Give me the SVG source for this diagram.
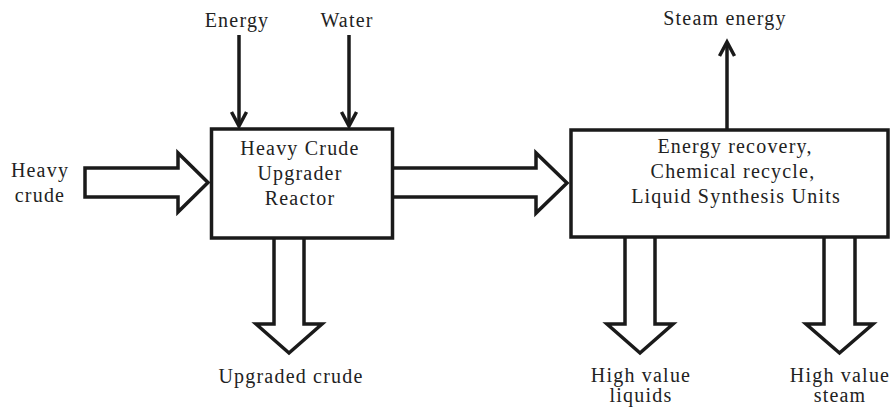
<svg xmlns="http://www.w3.org/2000/svg" width="893" height="408" viewBox="0 0 893 408">
  <style>
    .box { fill: #ffffff; stroke: #1a1a1a; stroke-width: 3.5; }
    .line { fill: none; stroke: #1a1a1a; stroke-width: 3.5; }
    .block { fill: #ffffff; stroke: #1a1a1a; stroke-width: 3.5; stroke-linejoin: miter; stroke-miterlimit: 10; }
    .lbl { font-family: "Liberation Serif", "Times New Roman", serif; font-size: 20px; letter-spacing: 1.2px; fill: #222222; text-anchor: middle; }
  </style>
  <defs>
    <marker id="chev" markerUnits="userSpaceOnUse" viewBox="-18 -10 22 20" markerWidth="22" markerHeight="20" refX="0" refY="0" orient="auto">
      <path d="M-14,-7.5 L0,0 L-14,7.5" fill="none" stroke="#1a1a1a" stroke-width="3.5" stroke-linejoin="miter"/>
    </marker>
  </defs>
  <rect width="893" height="408" fill="#ffffff"/>

  <g id="connectors">
    <line class="line" x1="239" y1="35" x2="239" y2="126" marker-end="url(#chev)"/>
    <line class="line" x1="349" y1="35" x2="349" y2="126" marker-end="url(#chev)"/>
    <line class="line" x1="727" y1="130" x2="727" y2="42" marker-end="url(#chev)"/>
    <path class="block" d="M85,168 L178,168 L178,153 L208,182.5 L178,212 L178,197 L85,197 Z"/>
    <path class="block" d="M393,168 L536,168 L536,153 L567,183 L536,213 L536,197 L393,197"/>
    <path class="block" d="M274,238 L274,324 L256,324 L289,353 L322,324 L304,324 L304,238"/>
    <path class="block" d="M625,237 L625,324 L607,324 L640,353 L673,324 L655,324 L655,237"/>
    <path class="block" d="M824,237 L824,324 L806,324 L839.5,353 L873,324 L855,324 L855,237"/>
  </g>

  <g id="reactor">
    <rect class="box" x="211.5" y="129" width="181" height="109"/>
    <text class="lbl" x="300" y="155">Heavy Crude</text>
    <text class="lbl" x="300" y="180">Upgrader</text>
    <text class="lbl" x="300" y="205">Reactor</text>
  </g>

  <g id="recovery">
    <rect class="box" x="571" y="130" width="317" height="107"/>
    <text class="lbl" x="735" y="153">Energy recovery,</text>
    <text class="lbl" x="733" y="178">Chemical recycle,</text>
    <text class="lbl" x="736" y="203">Liquid Synthesis Units</text>
  </g>

  <g id="energy-in">
    <text class="lbl" x="237" y="27">Energy</text>
  </g>
  <g id="water-in">
    <text class="lbl" x="347" y="27">Water</text>
  </g>
  <g id="heavy-crude">
    <text class="lbl" x="40" y="177">Heavy</text>
    <text class="lbl" x="40" y="202">crude</text>
  </g>
  <g id="upgraded-crude">
    <text class="lbl" x="291" y="383">Upgraded crude</text>
  </g>
  <g id="steam-energy">
    <text class="lbl" x="725" y="25">Steam energy</text>
  </g>
  <g id="hv-liquids">
    <text class="lbl" x="641" y="382">High value</text>
    <text class="lbl" x="641" y="402">liquids</text>
  </g>
  <g id="hv-steam">
    <text class="lbl" x="840" y="382">High value</text>
    <text class="lbl" x="840" y="402">steam</text>
  </g>
</svg>
